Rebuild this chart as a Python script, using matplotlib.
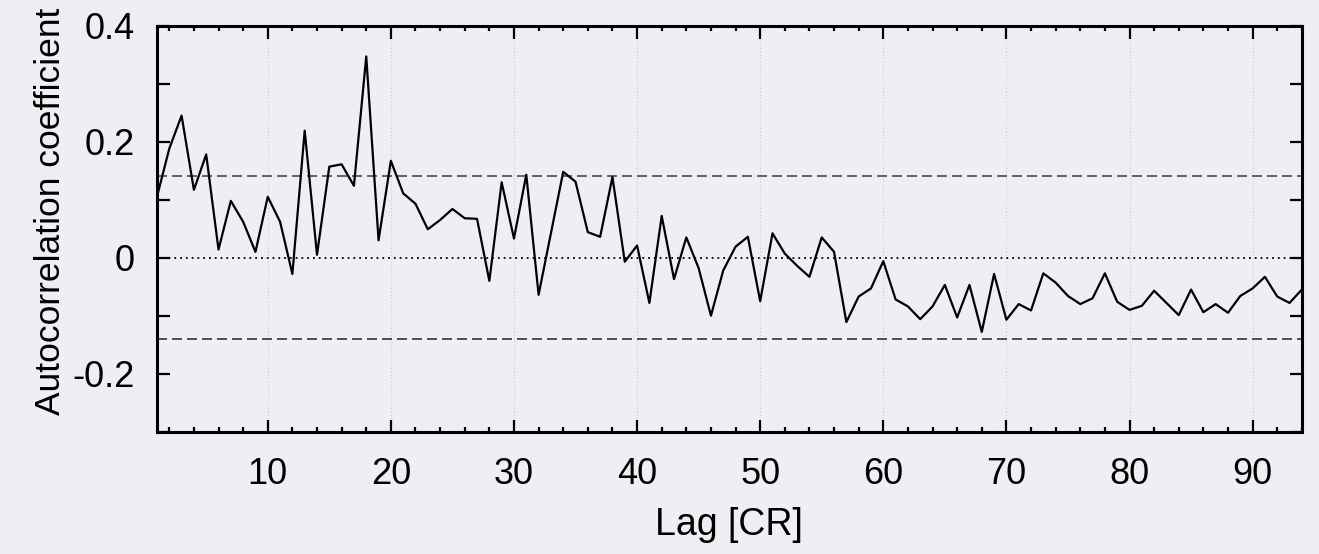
import numpy as np
import matplotlib
matplotlib.use("Agg")
import matplotlib.pyplot as plt
from matplotlib.ticker import MultipleLocator, FixedLocator

# ── Data ──────────────────────────────────────────────────────────────────────
lags = np.arange(1, 95)
acf = [
    0.105, 0.188, 0.245, 0.117, 0.178, 0.014, 0.098, 0.062, 0.010, 0.105,
    0.062, -0.028, 0.219, 0.005, 0.157, 0.161, 0.124, 0.347, 0.030, 0.167,
    0.111, 0.093, 0.049, 0.065, 0.084, 0.068, 0.067, -0.040, 0.130, 0.033,
    0.143, -0.064, 0.042, 0.148, 0.131, 0.044, 0.036, 0.139, -0.007, 0.021,
    -0.078, 0.072, -0.037, 0.035, -0.018, -0.100, -0.022, 0.019, 0.036, -0.075,
    0.042, 0.007, -0.014, -0.033, 0.035, 0.010, -0.111, -0.067, -0.053, -0.006,
    -0.072, -0.084, -0.106, -0.084, -0.047, -0.103, -0.047, -0.128, -0.028, -0.107,
    -0.080, -0.091, -0.027, -0.043, -0.066, -0.080, -0.070, -0.027, -0.076, -0.090,
    -0.083, -0.057, -0.078, -0.099, -0.055, -0.094, -0.080, -0.095, -0.066, -0.053,
    -0.033, -0.067, -0.078, -0.055,
]
conf_level = 0.141
x_major = [10, 20, 30, 40, 50, 60, 70, 80, 90]
y_ticks = [-0.3, -0.2, -0.1, 0.0, 0.1, 0.2, 0.3, 0.4]
y_ticklabels = ["", "-0.2", "", "0", "", "0.2", "", "0.4"]

# ── Style ─────────────────────────────────────────────────────────────────────
BG = "#edeff2"
plt.rcParams["font.family"] = ["Liberation Sans", "DejaVu Sans"]

fig = plt.figure(figsize=(13.19, 5.54), dpi=100, facecolor=BG)
ax = fig.add_axes([0.119, 0.2208, 0.868, 0.7328], facecolor=BG)

# faint vertical grid at major x ticks
for xv in x_major:
    ax.axvline(xv, color="#c8cacd", lw=0.8, ls=(0, (1, 2)), zorder=0)

ax.axhline(0, color="black", lw=1.3, ls=(0, (1, 2.2)), zorder=1)
ax.axhline(conf_level, color="#4a4a4a", lw=1.2, ls=(0, (6, 3)), zorder=1)
ax.axhline(-conf_level, color="#333333", lw=1.2, ls=(0, (6, 3)), zorder=1)

ax.plot(lags, acf, color="black", lw=1.6, zorder=2)

ax.set_xlim(1, 94)
ax.set_ylim(-0.3, 0.4)

ax.xaxis.set_major_locator(FixedLocator(x_major))
ax.xaxis.set_minor_locator(MultipleLocator(2))
ax.set_yticks(y_ticks)
ax.set_yticklabels(y_ticklabels)

ax.tick_params(axis="both", which="both", direction="in", top=True, right=True,
               width=1.6, color="black", labelsize=26)
ax.tick_params(axis="x", which="major", length=9, pad=18)
ax.tick_params(axis="x", which="minor", length=3.5)
ax.tick_params(axis="y", which="major", length=9, pad=16)

for s in ax.spines.values():
    s.set_linewidth(2.2)

ax.set_xlabel("Lag [CR]", fontsize=27)
ax.xaxis.set_label_coords(0.5, -0.185)
ax.set_ylabel("Autocorrelation coefficient", fontsize=25.5)
ax.yaxis.set_label_coords(-0.0785, 0.544)

fig.savefig("out.png", dpi=100, facecolor=BG)
